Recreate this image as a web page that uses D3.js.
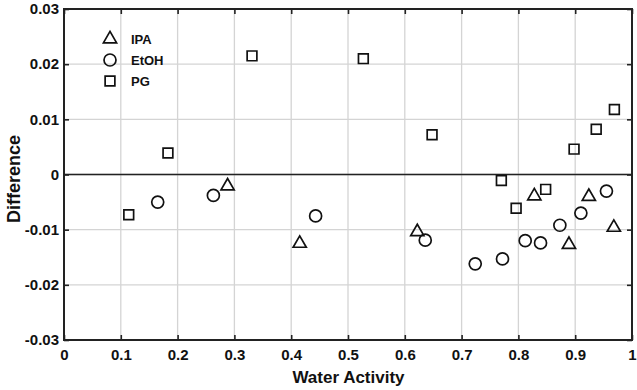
<!DOCTYPE html>
<html>
<head>
<meta charset="utf-8">
<script src="https://cdn.jsdelivr.net/npm/d3@7"></script>
<style>
  html, body { margin: 0; padding: 0; background: #fff; }
  svg { display: block; }
  text { font-family: "Liberation Sans", Arial, Helvetica, sans-serif; font-weight: bold; fill: #111; }
</style>
</head>
<body>
<svg id="chart" width="637" height="390"></svg>
<script>
// ---- Data ----
const ipaX  = [0.288, 0.415, 0.622, 0.828, 0.889, 0.924, 0.968];
const ipaY  = [-0.0021, -0.0125, -0.0104, -0.0039, -0.0127, -0.0040, -0.0096];

const etohX = [0.165, 0.263, 0.443, 0.636, 0.724, 0.772, 0.812, 0.839, 0.873, 0.910, 0.955];
const etohY = [-0.0050, -0.0038, -0.0075, -0.0119, -0.0162, -0.0153, -0.0120, -0.0124, -0.0092, -0.0070, -0.0030];

const pgX   = [0.114, 0.183, 0.331, 0.527, 0.648, 0.770, 0.796, 0.848, 0.898, 0.937, 0.969];
const pgY   = [-0.0073, 0.0039, 0.0215, 0.0210, 0.0072, -0.0011, -0.0061, -0.0027, 0.0046, 0.0082, 0.0118];

const xTicks = [0, 0.1, 0.2, 0.3, 0.4, 0.5, 0.6, 0.7, 0.8, 0.9, 1];
const xTickLabels = ["0", "0.1", "0.2", "0.3", "0.4", "0.5", "0.6", "0.7", "0.8", "0.9", "1"];
const yTicks = [-0.03, -0.02, -0.01, 0, 0.01, 0.02, 0.03];
const yTickLabels = ["-0.03", "-0.02", "-0.01", "0", "0.01", "0.02", "0.03"];

const seriesNames = ["IPA", "EtOH", "PG"];
const xTitle = "Water Activity";
const yTitle = "Difference";

// ---- Layout ----
const svg = d3.select("#chart");
const L = 64, R = 632, T = 9, B = 340;
const x = d3.scaleLinear().domain([0, 1]).range([L, R]);
const y = d3.scaleLinear().domain([-0.03, 0.03]).range([B, T]);

// grid
const grid = svg.append("g");
grid.selectAll(".gx").data(xTicks.slice(1, -1)).enter().append("line")
  .attr("x1", d => x(d)).attr("x2", d => x(d)).attr("y1", T).attr("y2", B)
  .attr("stroke", "#d4d4d4").attr("stroke-width", 1.3);
grid.selectAll(".gy").data(yTicks.slice(1, -1)).enter().append("line")
  .attr("y1", d => y(d)).attr("y2", d => y(d)).attr("x1", L).attr("x2", R)
  .attr("stroke", "#d4d4d4").attr("stroke-width", 1.3);

// zero line
svg.append("line").attr("x1", L).attr("x2", R).attr("y1", y(0)).attr("y2", y(0))
  .attr("stroke", "#222").attr("stroke-width", 1.6);

// axes with inward ticks
const fmtX = (d, i) => xTickLabels[i];
const fmtY = (d, i) => yTickLabels[i];
const axB = svg.append("g").attr("transform", `translate(0,${B})`)
  .call(d3.axisBottom(x).tickValues(xTicks).tickFormat(fmtX).tickSizeInner(-5).tickSizeOuter(0).tickPadding(9));
const axL = svg.append("g").attr("transform", `translate(${L},0)`)
  .call(d3.axisLeft(y).tickValues(yTicks).tickFormat(fmtY).tickSizeInner(-5).tickSizeOuter(0).tickPadding(5));
const axT = svg.append("g").attr("transform", `translate(0,${T})`)
  .call(d3.axisTop(x).tickValues(xTicks).tickFormat("").tickSizeInner(-5).tickSizeOuter(0));
const axR = svg.append("g").attr("transform", `translate(${R},0)`)
  .call(d3.axisRight(y).tickValues(yTicks).tickFormat("").tickSizeInner(-5).tickSizeOuter(0));
[axB, axL, axT, axR].forEach(a => {
  a.select(".domain").remove();
  a.selectAll(".tick line").attr("stroke", "#222").attr("stroke-width", 1.6);
  a.selectAll("text").attr("font-size", 15).attr("font-weight", "bold")
   .attr("font-family", '"Liberation Sans", Arial, sans-serif').attr("fill", "#111");
});

// frame
svg.append("rect").attr("x", L).attr("y", T).attr("width", R - L).attr("height", B - T)
  .attr("fill", "none").attr("stroke", "#222").attr("stroke-width", 2);

// axis titles
svg.append("text").attr("x", 348.5).attr("y", 383).attr("text-anchor", "middle")
  .attr("font-size", 17).text(xTitle);
svg.append("text").attr("transform", `translate(20,179) rotate(-90)`)
  .attr("text-anchor", "middle").attr("font-size", 18).text(yTitle);

// markers
const triSym = d3.symbol().type(d3.symbolTriangle).size(75);
const sqSym = d3.symbol().type(d3.symbolSquare).size(95);
const mk = { stroke: "#111", width: 1.7 };

function drawTri(g, cx, cy) {
  g.append("path").attr("d", triSym()).attr("transform", `translate(${cx},${cy})`)
    .attr("fill", "none").attr("stroke", mk.stroke).attr("stroke-width", mk.width);
}
function drawCirc(g, cx, cy) {
  g.append("circle").attr("cx", cx).attr("cy", cy).attr("r", 6)
    .attr("fill", "none").attr("stroke", mk.stroke).attr("stroke-width", mk.width);
}
function drawSq(g, cx, cy) {
  g.append("path").attr("d", sqSym()).attr("transform", `translate(${cx},${cy})`)
    .attr("fill", "none").attr("stroke", mk.stroke).attr("stroke-width", mk.width);
}

const pts = svg.append("g");
ipaX.forEach((v, i) => drawTri(pts, x(v), y(ipaY[i])));
etohX.forEach((v, i) => drawCirc(pts, x(v), y(etohY[i])));
pgX.forEach((v, i) => drawSq(pts, x(v), y(pgY[i])));

// legend
const lg = svg.append("g");
const lgY = [39, 60, 81];
const drawers = [drawTri, drawCirc, drawSq];
seriesNames.forEach((n, i) => {
  drawers[i](lg, 110, lgY[i]);
  lg.append("text").attr("x", 131).attr("y", lgY[i] + 5).attr("font-size", 13).text(n);
});
</script>
</body>
</html>
